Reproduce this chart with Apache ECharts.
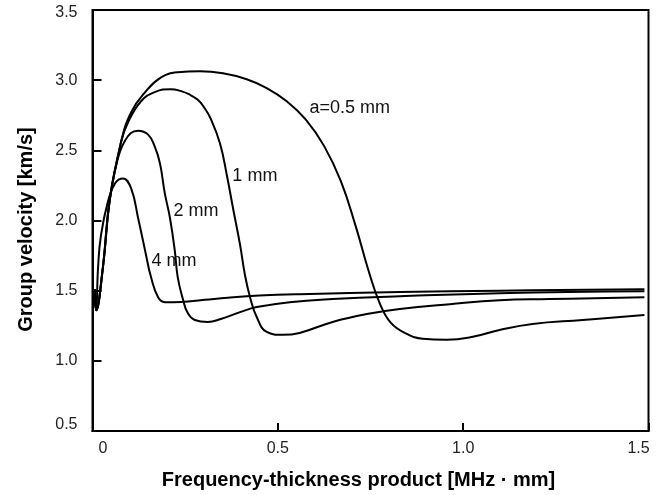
<!DOCTYPE html>
<html>
<head>
<meta charset="utf-8">
<script src="https://cdn.jsdelivr.net/npm/echarts@6/dist/echarts.min.js"></script>
<style>
html,body{margin:0;padding:0;background:#fff;}
#c{width:664px;height:495px;}
</style>
</head>
<body>
<div id="c"></div>
<script>
// Data
var xA = [0.006,0.010,0.028,0.046,0.077,0.104,0.142,0.185,0.230,0.290,0.352,0.416,0.470,0.524,0.575,0.625,0.670,0.710,0.745,0.775,0.805,0.848,0.891,0.955,1.026,1.098,1.187,1.322,1.489];
var yA = [1.51,1.36,1.665,2.138,2.56,2.77,2.915,3.02,3.056,3.064,3.049,3.007,2.944,2.850,2.720,2.530,2.280,1.960,1.640,1.410,1.270,1.192,1.157,1.150,1.171,1.220,1.263,1.291,1.326];

var x1 = [0.006,0.010,0.028,0.046,0.077,0.096,0.131,0.168,0.212,0.239,0.260,0.284,0.300,0.319,0.344,0.363,0.379,0.398,0.411,0.425,0.443,0.470,0.513,0.559,0.648,0.740,0.829,0.964,1.098,1.233,1.489];
var y1 = [1.51,1.36,1.665,2.138,2.56,2.70,2.85,2.915,2.936,2.922,2.900,2.860,2.810,2.725,2.548,2.315,2.089,1.828,1.616,1.453,1.312,1.206,1.185,1.199,1.277,1.333,1.369,1.404,1.432,1.440,1.453];

var x2 = [0.006,0.010,0.028,0.046,0.061,0.088,0.123,0.150,0.168,0.182,0.195,0.209,0.222,0.230,0.244,0.257,0.276,0.311,0.346,0.398,0.443,0.532,0.648,0.829,1.098,1.489];
var y2 = [1.51,1.36,1.665,2.138,2.36,2.57,2.64,2.612,2.527,2.407,2.195,2.018,1.785,1.595,1.439,1.340,1.291,1.277,1.298,1.347,1.383,1.418,1.440,1.460,1.482,1.496];

var x4 = [0.006,0.010,0.015,0.023,0.042,0.061,0.082,0.104,0.123,0.142,0.158,0.177,0.195,0.239,0.303,0.365,0.450,0.559,0.829,1.098,1.489];
var y4 = [1.51,1.36,1.665,1.898,2.138,2.266,2.30,2.23,2.018,1.785,1.595,1.453,1.418,1.420,1.435,1.450,1.465,1.475,1.490,1.500,1.510];

var seriesNames = ['a=0.5 mm','1 mm','2 mm','4 mm'];
var labelCoords = [[0.584,2.802],[0.376,2.315],[0.217,2.068],[0.158,1.708]];

var xTicks = [0, 0.5, 1.0, 1.5];
var yTicks = [0.5, 1.0, 1.5, 2.0, 2.5, 3.0, 3.5];

function pairs(xs, ys){ return xs.map(function(x,i){ return [x, ys[i]]; }); }

var FONT = '"Liberation Sans", Arial, Helvetica, sans-serif';
var allX = [xA, x1, x2, x4];
var allY = [yA, y1, y2, y4];

var series = seriesNames.map(function(name, i){
  return {
    name: name,
    type: 'line',
    data: pairs(allX[i], allY[i]),
    smooth: 0.45,
    symbol: 'none',
    lineStyle: {color: '#000', width: 2},
    markPoint: {
      symbol: 'circle',
      symbolSize: 1,
      itemStyle: {color: 'rgba(0,0,0,0)'},
      label: {show: true, position: 'right', distance: 0, color: '#111', fontSize: 18, fontFamily: FONT,
              formatter: function(){ return name; }},
      data: [{coord: labelCoords[i]}]
    }
  };
});

var chart = echarts.init(document.getElementById('c'), null, {renderer: 'canvas'});
chart.setOption({
  animation: false,
  backgroundColor: '#fff',
  grid: {left: 92.5, right: 15.5, top: 10, bottom: 60, show: true, borderColor: '#000', borderWidth: 2, backgroundColor: 'transparent'},
  xAxis: {
    type: 'value', min: xTicks[0], max: xTicks[xTicks.length-1], interval: 0.5,
    name: 'Frequency-thickness product [MHz · mm]',
    nameLocation: 'middle', nameGap: 39,
    nameTextStyle: {fontFamily: FONT, fontSize: 20, fontWeight: 'bold', color: '#000', padding: [0, 24, 0, 0]},
    axisLine: {lineStyle: {color: '#000', width: 2}},
    axisTick: {inside: true, length: 8, lineStyle: {color: '#000', width: 2}},
    splitLine: {show: false},
    axisLabel: {
      margin: 10, fontFamily: FONT, fontSize: 16, color: '#222',
      formatter: function(v){
        if (v === 0) return '{l|0}';
        if (Math.abs(v - 1.5) < 1e-9) return '{r|1.5}';
        return v.toFixed(1);
      },
      rich: {
        l: {fontFamily: FONT, fontSize: 16, color: '#222', padding: [0,0,0,21]},
        r: {fontFamily: FONT, fontSize: 16, color: '#222', padding: [0,20,0,0]}
      }
    }
  },
  yAxis: {
    type: 'value', min: yTicks[0], max: yTicks[yTicks.length-1], interval: 0.5,
    name: 'Group velocity [km/s]',
    nameLocation: 'middle', nameGap: 56,
    nameTextStyle: {fontFamily: FONT, fontSize: 20, fontWeight: 'bold', color: '#000', padding: [0, 18, 0, 0]},
    axisLine: {show: true, lineStyle: {color: '#000', width: 2}},
    axisTick: {show: true, inside: true, length: 9, lineStyle: {color: '#000', width: 2}},
    splitLine: {show: false},
    axisLabel: {margin: 15, fontFamily: FONT, fontSize: 16, color: '#222',
      formatter: function(v){
        if (Math.abs(v - 0.5) < 1e-9) return '{b|0.5}';
        if (Math.abs(v - 3.5) < 1e-9) return '{t|3.5}';
        return v.toFixed(1);
      },
      rich: {
        b: {fontFamily: FONT, fontSize: 16, color: '#222', padding: [0,0,12,0]},
        t: {fontFamily: FONT, fontSize: 16, color: '#222', padding: [6,0,0,0]}
      }
    }
  },
  series: series
});
</script>
</body>
</html>
